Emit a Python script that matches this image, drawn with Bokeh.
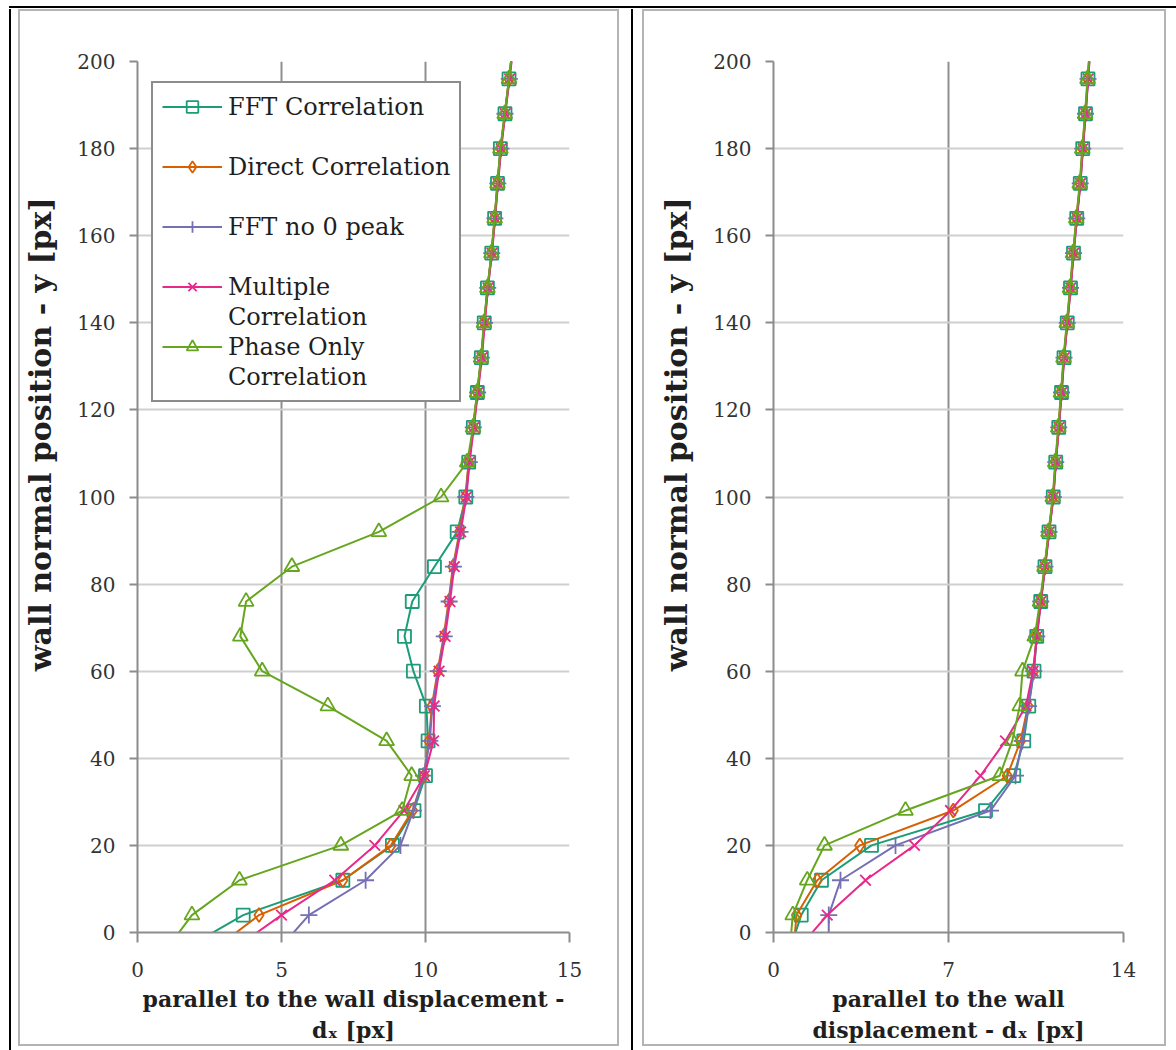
from bokeh.plotting import figure
from bokeh.models import Range1d, FixedTicker, Legend, LegendItem, Div, Spacer
from bokeh.layouts import row, column
from bokeh.embed import file_html
from bokeh.resources import INLINE

# ---------------- data ----------------
y_pos = [-4, 4, 12, 20, 28, 36, 44, 52, 60, 68, 76, 84, 92, 100, 108, 116, 124,
         132, 140, 148, 156, 164, 172, 180, 188, 196, 204]

# legend rows: (text, series index or None for a continuation / blank row)
legend_rows = [("FFT Correlation", 0), (" ", None),
               ("Direct Correlation", 1), (" ", None),
               ("FFT no 0 peak", 2), (" ", None),
               ("Multiple", 3), ("Correlation", None),
               ("Phase Only", 4), ("Correlation", None)]

# left panel (x range 0..15)
left_fft = [1.57, 3.67, 7.13, 8.85, 9.60, 10.00, 10.09, 10.03, 9.58, 9.27, 9.54, 10.31, 11.10,
            11.40, 11.50, 11.66, 11.80, 11.94, 12.04, 12.15, 12.30, 12.40, 12.50, 12.60, 12.76, 12.90, 13.04]
left_direct = [2.64, 4.22, 7.13, 8.80, 9.55, 9.95, 10.12, 10.22, 10.42, 10.63, 10.80, 10.95, 11.18,
               11.38, 11.50, 11.65, 11.80, 11.93, 12.04, 12.16, 12.29, 12.40, 12.50, 12.61, 12.75, 12.90, 13.04]
left_fftno0 = [4.89, 5.95, 7.92, 9.13, 9.58, 9.93, 10.15, 10.24, 10.44, 10.65, 10.82, 10.97, 11.20,
               11.40, 11.52, 11.66, 11.81, 11.94, 12.05, 12.16, 12.30, 12.41, 12.51, 12.62, 12.76, 12.91, 13.05]
left_multiple = [3.30, 5.00, 6.85, 8.24, 9.25, 9.96, 10.28, 10.30, 10.47, 10.68, 10.85, 11.00, 11.22,
                 11.42, 11.53, 11.68, 11.82, 11.96, 12.06, 12.17, 12.31, 12.42, 12.52, 12.63, 12.77, 12.92, 13.06]
left_phase = [0.99, 1.89, 3.54, 7.06, 9.19, 9.52, 8.65, 6.61, 4.33, 3.57, 3.77, 5.36, 8.38,
              10.54, 11.45, 11.65, 11.79, 11.93, 12.03, 12.15, 12.29, 12.40, 12.50, 12.60, 12.75, 12.90, 13.04]

# right panel (x range 0..14)
right_fft = [0.65, 1.11, 1.92, 3.92, 8.48, 9.61, 10.01, 10.21, 10.42, 10.53, 10.69, 10.86, 11.02,
             11.19, 11.29, 11.41, 11.52, 11.62, 11.75, 11.88, 12.00, 12.13, 12.27, 12.37, 12.48, 12.58, 12.68]
right_direct = [0.80, 0.92, 1.75, 3.45, 7.19, 9.35, 9.88, 10.18, 10.40, 10.52, 10.68, 10.85, 11.01,
                11.18, 11.28, 11.40, 11.51, 11.61, 11.74, 11.87, 11.99, 12.12, 12.26, 12.36, 12.47, 12.57, 12.67]
right_fftno0 = [2.21, 2.21, 2.68, 4.88, 8.68, 9.68, 9.95, 10.20, 10.41, 10.53, 10.69, 10.86, 11.02,
                11.19, 11.29, 11.41, 11.52, 11.62, 11.75, 11.88, 12.00, 12.13, 12.27, 12.37, 12.48, 12.58, 12.68]
right_multiple = [0.95, 2.15, 3.68, 5.64, 7.08, 8.28, 9.28, 10.10, 10.38, 10.54, 10.70, 10.87, 11.03,
                  11.20, 11.30, 11.42, 11.53, 11.63, 11.76, 11.89, 12.01, 12.14, 12.28, 12.38, 12.49, 12.59, 12.69]
right_phase = [0.65, 0.77, 1.35, 2.04, 5.28, 9.05, 9.55, 9.85, 9.96, 10.45, 10.66, 10.84, 11.00,
               11.17, 11.27, 11.39, 11.50, 11.60, 11.73, 11.86, 11.98, 12.11, 12.25, 12.35, 12.46, 12.56, 12.66]

left_xticks = [0, 5, 10, 15]
right_xticks = [0, 7, 14]
y_ticks = [0, 20, 40, 60, 80, 100, 120, 140, 160, 180, 200]

left_xlabel = "parallel to the wall displacement -\ndₓ [px]"
right_xlabel = "parallel to the wall\ndisplacement - dₓ [px]"
ylabel = "wall normal position - y [px]"

# ---------------- styles ----------------
colors = ["#1b9e77", "#d95f02", "#7570b3", "#e7298a", "#66a61e"]
markers = ["square", "diamond", "cross", "x", "triangle"]
msizes = [13, 14, 17, 15, 15]
FONT = "DejaVu Serif"
YLABEL_PAD = "\u00a0" * 12   # shifts the rotated label upward, as in the original


def make_panel(xs_list, xmax, xticks, xlabel, width, left_b, right_b, with_legend):
    p = figure(width=width, height=1037, output_backend="svg", toolbar_location=None,
               x_range=Range1d(0, xmax), y_range=Range1d(0, 200),
               min_border_left=left_b, min_border_right=right_b,
               min_border_top=50, min_border_bottom=116,
               outline_line_color=None, background_fill_color="white",
               border_fill_color="white",
               styles={"border": "2px solid #b4b4b4"})
    p.xaxis.ticker = FixedTicker(ticks=xticks)
    p.yaxis.ticker = FixedTicker(ticks=y_ticks)
    for ax in (p.xaxis[0], p.yaxis[0]):
        ax.axis_line_color = "#8c8c8c"
        ax.axis_line_width = 2
        ax.major_tick_line_color = "#8c8c8c"
        ax.major_tick_line_width = 2
        ax.major_tick_in = 0
        ax.minor_tick_line_color = None
        ax.major_label_text_font = FONT
        ax.major_label_text_font_size = "20px"
        ax.major_label_text_color = "#333333"
        ax.axis_label_text_font = FONT
        ax.axis_label_text_font_style = "bold"
        ax.axis_label_text_color = "#1f1f1f"
    p.xaxis.major_tick_out = 10
    p.xaxis.major_label_standoff = 19
    p.xaxis.axis_label = xlabel
    p.xaxis.axis_label_text_font_size = "22px"
    p.xaxis.axis_label_standoff = 6
    p.yaxis.major_tick_out = 8
    p.yaxis.major_label_standoff = 14
    p.yaxis.axis_label = YLABEL_PAD + ylabel
    p.yaxis.axis_label_text_font_size = "30px"
    p.yaxis.axis_label_standoff = 16
    p.xgrid.grid_line_color = "#8f8f8f"
    p.xgrid.grid_line_width = 2
    p.ygrid.grid_line_color = "#cfcfcf"
    p.ygrid.grid_line_width = 2

    pairs = []
    for xs, c, m, s in zip(xs_list, colors, markers, msizes):
        lr = p.line(xs, y_pos, line_color=c, line_width=2)
        sr = p.scatter(xs, y_pos, marker=m, size=s, line_color=c, fill_color=None, line_width=1.8)
        pairs.append([lr, sr])

    if with_legend:
        items = []
        for text, idx in legend_rows:
            rs = pairs[idx] if idx is not None else []
            items.append(LegendItem(label=text, renderers=rs))
        leg = Legend(items=items, location=(14, 530), orientation="vertical",
                     label_text_font=FONT, label_text_font_size="24px",
                     label_text_color="#1f1f1f", glyph_width=60, glyph_height=29,
                     label_height=29, label_standoff=6, spacing=1, padding=9, margin=0,
                     border_line_color="#1a1a1a", border_line_width=2,
                     background_fill_color="white", background_fill_alpha=1.0)
        p.add_layout(leg, "center")
    return p


p1 = make_panel([left_fft, left_direct, left_fftno0, left_multiple, left_phase],
                15, left_xticks, left_xlabel, 601, 116, 52, True)
p2 = make_panel([right_fft, right_direct, right_fftno0, right_multiple, right_phase],
                14, right_xticks, right_xlabel, 524, 129, 45, False)


def vline():
    return Div(width=2, height=1041, margin=0, styles={"background-color": "black"})


top_line = Div(width=1167, height=2, margin=0, styles={"background-color": "black"})

root = column(
    Spacer(height=6, margin=0),
    row(Spacer(width=9, margin=0), top_line, margin=0),
    Spacer(height=1, margin=0),
    row(Spacer(width=9, margin=0), vline(), Spacer(width=7, margin=0), p1,
        Spacer(width=12, margin=0), vline(), Spacer(width=9, margin=0), p2, margin=0),
    margin=0,
)

open("out.html", "w").write(file_html(root, INLINE))
